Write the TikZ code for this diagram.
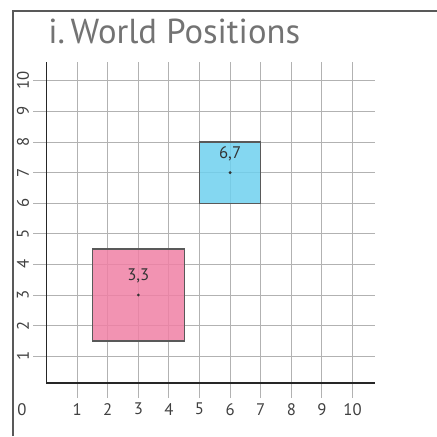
\documentclass[tikz,border=0pt]{standalone}
\usepackage{fontspec}
\setmainfont{PT Sans}
\usetikzlibrary{positioning}

\definecolor{objpink}{RGB}{240,128,165}
\definecolor{objblue}{RGB}{110,208,238}

\begin{document}
\begin{tikzpicture}[
		x=0.9cm, y=0.9cm,
		grid_line/.style={draw=black!30, line width=0.8pt},
		axis_line/.style={draw=black!85, line width=1.3pt},
		tick_label/.style={font=\fontsize{14}{14}\selectfont, text=black!75, inner sep=0pt},
		world_box/.style={rectangle, draw=black!65, line width=1pt, fill opacity=0.85, minimum size=2.7cm, inner sep=0pt},
		pos_label/.style={font=\fontsize{14}{14}\selectfont, text=black!80, inner sep=0pt},
		pos_dot/.style={fill=black!80}
		]
		\useasboundingbox (-1.52,-1.61) rectangle (12.76,12.64);
		
		% --- FRAME AND TITLE ---
		\draw[black!65, line width=1.6pt] (-1.095,-1.61) -- (-1.095,12.28) -- (12.76,12.28);
		\node[anchor=base west, inner sep=0pt, text=black!55, font=\fontsize{29}{29}\selectfont] (title) at (0.05,11.23) {i.\,World Positions};
		
		% --- GRID ---
		\foreach \i in {1,...,10} {
			\draw[grid_line] (\i,-0.37) -- (\i,10.61);
			\draw[grid_line] (-0.44,\i) -- (10.74,\i);
		}
		
		% --- OBJECTS ---
		\node[world_box, fill=objpink, minimum size=2.7cm] (pink_obj) at (3,3) {};
		\node[world_box, fill=objblue, minimum size=1.8cm] (blue_obj) at (6,7) {};
		
		% --- AXES ---
		\draw[axis_line] (0,10.61) -- (0,0.12) -- (10.74,0.12);
		
		% --- AXIS LABELS ---
		\node[tick_label] (origin) at (-0.8,-0.75) {0};
		\foreach \i in {1,...,10} {
			\node[tick_label] (xl\i) at (\i,-0.73) {\i};
			\node[tick_label, rotate=90] (yl\i) at (-0.77,\i) {\i};
		}
		
		% --- POSITIONS ---
		\fill[pos_dot] (pink_obj.center) circle (1.3pt);
		\node[pos_label] (pink_lbl) at (3,3.62) {3,3};
		\fill[pos_dot] (blue_obj.center) circle (1.3pt);
		\node[pos_label] (blue_lbl) at (6,7.6) {6,7};
		
	\end{tikzpicture}
\end{document}
